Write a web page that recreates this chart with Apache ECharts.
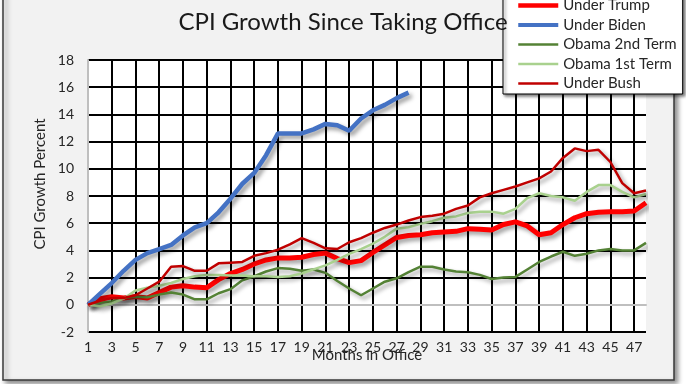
<!DOCTYPE html>
<html><head><meta charset="utf-8">
<script src="https://cdn.jsdelivr.net/npm/echarts@6/dist/echarts.min.js"></script>
<style>html,body{margin:0;padding:0;background:#fff}#c{width:686px;height:384px}</style>
</head><body><div id="c"></div>
<script>
const months = ['1','2','3','4','5','6','7','8','9','10','11','12','13','14','15','16','17','18','19','20','21','22','23','24',
  '25','26','27','28','29','30','31','32','33','34','35','36','37','38','39','40','41','42','43','44','45','46','47','48'];
const underTrump = [0,0.45,0.6,0.5,0.6,0.5,0.9,1.3,1.4,1.3,1.25,1.85,2.3,2.6,3.0,3.3,3.45,3.45,3.5,3.7,3.8,3.4,3.1,3.25,
  3.85,4.4,4.95,5.1,5.15,5.3,5.35,5.4,5.6,5.55,5.5,5.9,6.1,5.8,5.15,5.3,5.9,6.4,6.7,6.8,6.85,6.85,6.9,7.5];
const underBiden = [0,0.8,1.6,2.5,3.3,3.8,4.1,4.4,5.1,5.7,6.0,6.8,7.8,8.9,9.7,11.0,12.6,12.6,12.6,12.9,13.3,13.2,12.8,13.7,
  14.3,14.7,15.2,15.6];
const obama2nd = [0,0.15,0.25,0.5,0.6,0.55,0.75,0.9,0.75,0.4,0.4,0.85,1.15,1.8,2.1,2.45,2.7,2.65,2.5,2.6,2.35,1.75,1.2,0.7,
  1.2,1.7,1.95,2.4,2.8,2.8,2.6,2.45,2.4,2.2,1.9,2.0,2.05,2.6,3.15,3.55,3.9,3.6,3.75,4.0,4.1,4.0,4.0,4.55];
const obama1st = [0,-0.1,0.1,0.45,1.05,1.25,1.4,1.6,1.9,2.1,2.2,2.2,2.15,2.15,2.1,2.1,2.05,2.1,2.3,2.6,2.9,3.3,3.75,4.1,
  4.5,5.0,5.6,5.7,5.95,6.15,6.4,6.5,6.75,6.85,6.85,6.7,7.05,7.85,8.2,8.0,7.9,7.65,8.3,8.8,8.8,8.3,7.9,8.15];
const underBush = [0,0.3,0.5,0.5,0.7,1.2,1.7,2.8,2.85,2.5,2.5,3.05,3.1,3.15,3.6,3.8,4.05,4.45,4.9,4.55,4.15,4.1,4.6,4.9,
  5.3,5.65,5.9,6.2,6.45,6.55,6.7,7.05,7.3,7.9,8.2,8.45,8.7,9.0,9.3,9.8,10.8,11.5,11.3,11.4,10.5,8.95,8.2,8.4];
const yTicks = {min:-2, max:18, step:2};

const F = 'Lato, "Open Sans", sans-serif';
const chart = echarts.init(document.getElementById('c'));
function ser(name, data, color, width) {
  return {name:name, type:'line', data:data, symbol:'none', showSymbol:false,
    lineStyle:{color:color, width:width, shadowColor:'rgba(0,0,0,0.4)', shadowBlur:4, shadowOffsetX:3, shadowOffsetY:3},
    itemStyle:{color:color}, emphasis:{disabled:true}, silent:true};
}
chart.setOption({
  animation:false,
  backgroundColor:'#ffffff',
  graphic:[{type:'rect', z:-10, shape:{x:3,y:-10,width:671,height:390},
    style:{fill:'#f2f2f2', stroke:'#3a3a3a', lineWidth:1.5, shadowBlur:5, shadowColor:'rgba(0,0,0,0.45)', shadowOffsetX:3, shadowOffsetY:3}}],
  title:{text:'CPI Growth Since Taking Office', left:'center', top:5,
    textStyle:{fontFamily:F, fontSize:24, fontWeight:'normal', color:'#1a1a1a'}},
  legend:{orient:'vertical', left:503, top:-7, padding:[5,6,3,13], itemGap:4.5, itemWidth:40, itemHeight:14,
    backgroundColor:'#ffffff', borderColor:'#000', borderWidth:1,
    shadowBlur:3, shadowColor:'rgba(0,0,0,0.5)', shadowOffsetX:2, shadowOffsetY:2,
    selectedMode:false,
    itemStyle:{opacity:0},
    textStyle:{fontFamily:F, fontSize:15, color:'#262626'},
    data:[{name:'Under Trump', lineStyle:{width:4.5}},
          {name:'Under Biden', lineStyle:{width:4}},
          {name:'Obama 2nd Term', lineStyle:{width:2.5}},
          {name:'Obama 1st Term', lineStyle:{width:2.5}},
          {name:'Under Bush', lineStyle:{width:2.5}}]},
  grid:{left:88, right:40, top:60, bottom:52, show:true, backgroundColor:'#ffffff', borderWidth:0, outerBoundsMode:'none', containLabel:false},
  xAxis:{type:'category', data:months, boundaryGap:false,
    axisLine:{onZero:true, lineStyle:{color:'#bfbfbf', width:2}},
    axisTick:{show:false},
    axisLabel:{interval:1, fontFamily:F, fontSize:14, color:'#262626', margin:8},
    splitLine:{show:true, interval:1, lineStyle:{color:'#000', width:2}},
    name:'Months in Office', nameLocation:'middle', nameGap:16, nameMoveOverlap:false,
    nameTextStyle:{fontFamily:F, fontSize:15, color:'#262626'}},
  yAxis:{type:'value', min:yTicks.min, max:yTicks.max, interval:yTicks.step,
    axisLine:{show:true, lineStyle:{color:'#bfbfbf', width:2}},
    axisTick:{show:false},
    axisLabel:{fontFamily:F, fontSize:14, color:'#262626', margin:14},
    splitLine:{show:true, lineStyle:{color:'#000', width:2}},
    name:'CPI Growth Percent', nameLocation:'middle', nameGap:40, nameRotate:90, nameMoveOverlap:false,
    nameTextStyle:{fontFamily:F, fontSize:15, color:'#262626', padding:[0,0,0,24]}},
  series:[
    ser('Under Trump', underTrump, '#ff0000', 5),
    ser('Under Biden', underBiden, '#4472c4', 4.5),
    ser('Obama 2nd Term', obama2nd, '#548235', 2.5),
    ser('Obama 1st Term', obama1st, '#a9d18e', 2.5),
    ser('Under Bush', underBush, '#c00000', 2.5)
  ]
});
</script></body></html>
